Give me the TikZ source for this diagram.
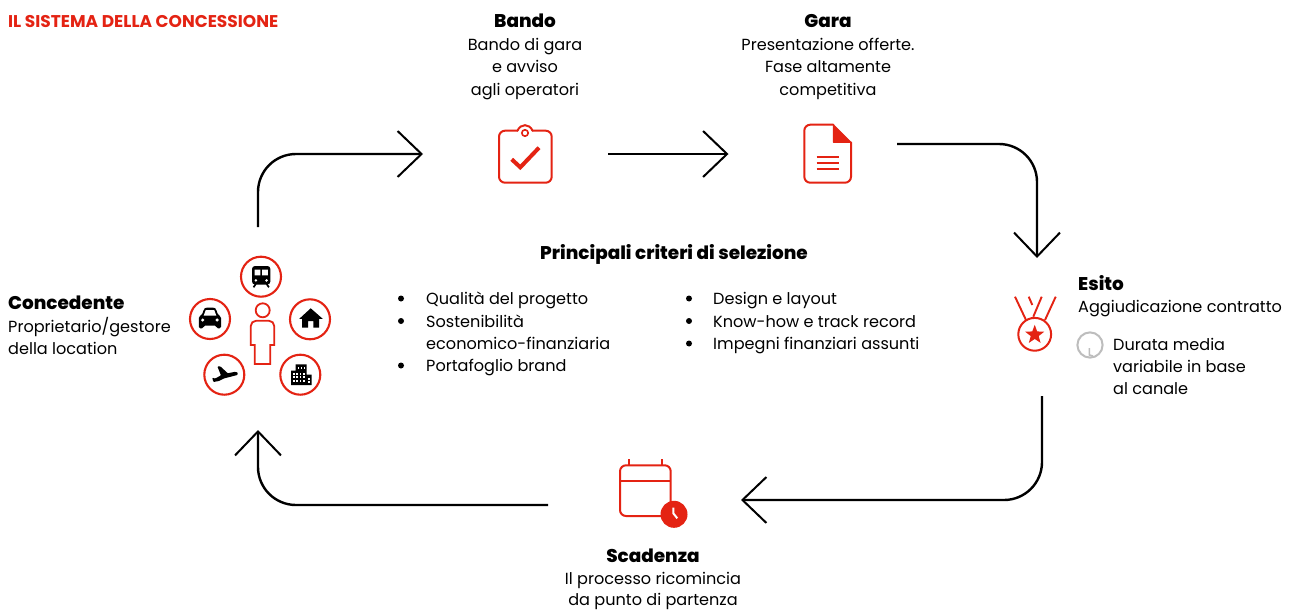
\documentclass[tikz,border=0pt]{standalone}
\usepackage{fontspec}
\setmainfont{Poppins}
\newfontfamily\heavy{Poppins ExtraBold}
\usetikzlibrary{arrows.meta,shapes.geometric}
\definecolor{rosso}{HTML}{E42313}
\definecolor{grigio}{HTML}{BDBDBD}
\tikzset{
 flow/.style={draw=black,line width=2.4pt,rounded corners=38pt,-{Straight Barb[length=24pt,width=46pt,line width=2pt]}},
 txt/.style={inner sep=0pt,font=\fontsize{16.1}{18}\selectfont,anchor=base},
 txtl/.style={txt,anchor=base west},
 head/.style={txt,font=\fontsize{18.4}{18}\heavy\selectfont},
 headl/.style={head,anchor=base west},
 ico/.style={draw=rosso,line width=2pt,line join=round,line cap=round},
 ring/.style={circle,draw=rosso,line width=2.1pt,minimum size=40pt,inner sep=0pt,fill=white},
 dotb/.style={circle,fill=black,minimum size=6pt,inner sep=0pt},
}
\begin{document}
\begin{tikzpicture}[x=1pt,y=-1pt]
\useasboundingbox (0,0) rectangle (1300,610);
\fill[white] (0,0) rectangle (1300,610);
% title
\node[headl,text=rosso,font=\fontsize{17}{18}\bfseries\selectfont] (titolo) at (8,28) {IL SISTEMA DELLA CONCESSIONE};
% Bando
\node[head] (bandoT) at (525,28) {Bando};
\node[txt] (bando1) at (525,50.5) {Bando di gara};
\node[txt] (bando2) at (525,72.5) {e avviso};
\node[txt] (bando3) at (525,95.5) {agli operatori};
% Gara
\node[head] (garaT) at (828,28) {Gara};
\node[txt] (gara1) at (828,50.5) {Presentazione offerte.};
\node[txt] (gara2) at (828,72.5) {Fase altamente};
\node[txt] (gara3) at (828,95.5) {competitiva};
% Concedente
\node[headl] (concT) at (8,309) {Concedente};
\node[txtl] (conc1) at (8,332) {Proprietario/gestore};
\node[txtl] (conc2) at (8,354) {della location};
% Esito
\node[headl] (esitoT) at (1078,290.5) {Esito};
\node[txtl] (esito1) at (1078,312.5) {Aggiudicazione contratto};
\node[txtl] (dur1) at (1113,350) {Durata media};
\node[txtl] (dur2) at (1113,372) {variabile in base};
\node[txtl] (dur3) at (1113,394) {al canale};
% Scadenza
\node[head] (scadT) at (653,562) {Scadenza};
\node[txt] (scad1) at (653,584) {Il processo ricomincia};
\node[txt] (scad2) at (653,605) {da punto di partenza};
% Criteri
\node[head] (critT) at (674,259.5) {Principali criteri di selezione};
\node[dotb] (b1) at (401,298.5) {}; \node[txtl] (c1) at (426,304.5) {Qualità del progetto};
\node[dotb] (b2) at (401,321) {}; \node[txtl] (c2) at (426,327) {Sostenibilità};
\node[txtl] (c2b) at (426,349.5) {economico-finanziaria};
\node[dotb] (b3) at (401,365.5) {}; \node[txtl] (c3) at (426,371.5) {Portafoglio brand};
\node[dotb] (b4) at (689,298.5) {}; \node[txtl] (c4) at (713,304.5) {Design e layout};
\node[dotb] (b5) at (689,321) {}; \node[txtl] (c5) at (713,327) {Know-how e track record};
\node[dotb] (b6) at (689,343.5) {}; \node[txtl] (c6) at (713,349.5) {Impegni finanziari assunti};
% connector ends
\coordinate (a1s) at (258,227); \coordinate (a1e) at (423,154);
\coordinate (a2s) at (608,154); \coordinate (a2e) at (728.5,154);
\coordinate (a3s) at (897,144); \coordinate (a3e) at (1037,258);
\coordinate (a4s) at (1042,396); \coordinate (a4e) at (741,500);
\coordinate (a5s) at (548,505); \coordinate (a5e) at (258,430);
\draw[flow] (a1s) |- (a1e);
\draw[flow] (a2s) -- (a2e);
\draw[flow] (a3s) -| (a3e);
\draw[flow] (a4s) |- (a4e);
\draw[flow] (a5s) -| (a5e);
% Clipboard
\draw[ico,rounded corners=6pt] (499,130.7) rectangle (551.7,182.7);
\fill[white] (517.6,127) rectangle (532.4,132);
\draw[ico] (517.5,130.7) .. controls (519,127) and (522,125.2) .. (525,125.2) .. controls (528,125.2) and (531,127) .. (532.5,130.7);
\draw[rosso,line width=1.6pt] (525,133) circle (3.2);
\draw[rosso,line width=4pt] (511.7,159.3) -- (520.3,167.3) -- (539,147.7);
% Document
\draw[ico,rounded corners=6pt] (833.3,124.7) -- (804.3,124.7) -- (804.3,182.7) -- (851,182.7) -- (851,142.3);
\fill[rosso,draw=rosso,line width=1pt,line join=round] (833.3,124.7) -- (833.3,142.3) -- (851,142.3) -- cycle;
\draw[rosso,line width=1.6pt] (816.7,157) -- (839.3,157) (816.7,162.7) -- (839.3,162.7) (816.7,168.7) -- (839.3,168.7);
% Medal
\draw[rosso,line width=2pt] (1034.7,334.3) circle (16.4);
\node[star,star points=5,star point ratio=2.4,fill=rosso,minimum size=20pt,inner sep=0pt] (stella) at (1034.7,334.8) {};
\draw[rosso,line width=1.9pt] (1015,296.7) -- (1026,320) (1041.7,296.7) -- (1033.3,316.7) (1055.7,296.7) -- (1045,320) (1028.7,296.7) -- (1032.3,305);
% Gray clock
\draw[grigio,line width=2pt] (1090,345) circle (12.6);
\draw[grigio,line width=1.6pt] (1089.3,348) -- (1089.3,355) -- (1093,356);
% Calendar
\draw[ico,rounded corners=6pt] (620,465.3) rectangle (670.7,516);
\draw[rosso,line width=1.6pt] (620,481) -- (670.7,481) (628.7,459.3) -- (628.7,465) (662,459.3) -- (662,465);
\fill[rosso] (674,514.3) circle (13.5);
\draw[white,line width=2pt] (673.3,507.7) -- (673.3,513.3) -- (677.3,518.3);
% Person
\draw[rosso,line width=1.8pt] (262.7,310.3) circle (7);
\draw[rosso,line width=1.8pt,line join=miter,rounded corners=0pt] (250.7,345) -- (250.7,326) [rounded corners=5.5pt] -- (250.7,320.7) -- (274.3,320.7) [rounded corners=0pt] -- (274.3,345) -- (270.3,345) -- (270.3,364) -- (254.7,364) -- (254.7,345) -- cycle;
% Rings
\node[ring] (treno) at (261,276.7) {};
\node[ring] (auto) at (210,319) {};
\node[ring] (casa) at (310,319.3) {};
\node[ring] (aereo) at (224.3,374.7) {};
\node[ring] (palazzo) at (300.3,374.7) {};
% Train
\fill[black,rounded corners=3pt] (252,266) rectangle (270.4,284.5);
\fill[white] (254.6,269.6) rectangle (260.4,275.4) (262,269.6) rectangle (267.8,275.4);
\fill[white] (255.9,280.4) circle (1.4) (266.5,280.4) circle (1.4);
\draw[black,line width=1.7pt] (255.8,284) -- (253.5,287.3) (266.6,284) -- (268.9,287.3);
% Car
\fill[black,rounded corners=1.5pt] (198.8,328.4) -- (198.8,316.5) -- (202,314.8) -- (204,309) -- (205.5,307.6) -- (214.5,307.6) -- (216,309) -- (218,314.8) -- (221,316.5) -- (221,328.4) -- (216.5,328.4) -- (216.5,325.5) -- (203.5,325.5) -- (203.5,328.4) -- cycle;
\fill[white] (203.7,315.6) -- (205.8,310) -- (214.2,310) -- (216.3,315.6) -- cycle;
\fill[white] (202.7,320) circle (1.7) (217.1,320) circle (1.7);
% House
\fill[black] (310.7,308.3) -- (322.7,318.8) -- (319.2,318.8) -- (319.2,327.7) -- (313.4,327.7) -- (313.4,321) -- (308,321) -- (308,327.7) -- (302.2,327.7) -- (302.2,318.8) -- (299.3,318.8) -- cycle;
% Plane
\fill[black,rounded corners=0.8pt] (217.4,366.4) -- (220.5,366.4) -- (227.7,373.3) -- (235,371.8) -- (237.9,372.6) -- (237.4,375) -- (224,378.4) -- (219,381) -- (213.4,382) -- (212.2,377.6) -- (215,378.6) -- (221,375.4) -- cycle;
% Building
\fill[black] (291,370.5) -- (295.5,370.5) -- (295.5,364.3) -- (306.5,364.3) -- (306.5,374.5) -- (311.7,374.5) -- (311.7,385) -- (291,385) -- cycle;
\foreach \cx in {293,296.3,299.6,302.9}{\foreach \cy in {374.5,378,381.5}{\fill[white] (\cx,\cy) rectangle +(1.8,-1.8);}}
\foreach \cx in {297.5,300.5,303.5}{\fill[white] (\cx,368.5) rectangle +(1.6,-1.8);}
\foreach \cy in {379.5,383}{\fill[white] (307.6,\cy) rectangle +(2,-1.8);}
\end{tikzpicture}
\end{document}
